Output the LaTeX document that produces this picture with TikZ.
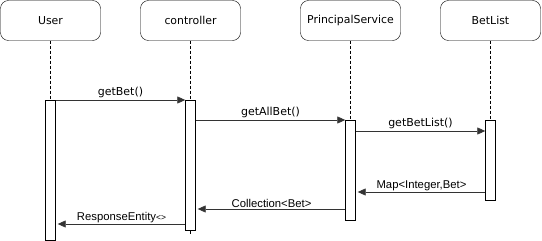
\documentclass[tikz,border=0pt]{standalone}
\usepackage{fontspec}
\setmainfont{Liberation Sans}
\newfontfamily\headfont{DejaVu Sans}
\usetikzlibrary{arrows.meta}

\tikzset{
  head/.style={draw, rounded corners=8pt, minimum width=100pt, minimum height=40pt,
    inner sep=0pt, font=\headfont\fontsize{10.9}{12}\selectfont},
  life/.style={densely dashed, line width=0.6pt},
  bar/.style={draw, fill=white, minimum width=10pt, inner sep=0pt, anchor=north},
  msg/.style={-{Triangle[length=8pt,width=7pt]}, line width=0.6pt, draw=black!80},
  call/.style={font=\headfont\fontsize{11}{12}\selectfont, inner sep=1pt, anchor=south, above=1pt},
  back/.style={font=\fontsize{11.3}{12}\selectfont, inner sep=1pt, anchor=south, above=0pt}
}

\begin{document}
\begin{tikzpicture}[x=1pt, y=-1pt]
  \useasboundingbox (0,0) rectangle (542,241);

  % participants
  \node[head] (user)    at (50.5,20.5)  {User};
  \node[head] (ctrl)    at (190.5,20.5) {controller};
  \node[head] (service) at (350.5,20.5) {PrincipalService};
  \node[head] (betlist) at (490.5,20.5) {BetList};

  % lifelines
  \draw[life] (user.south)    -- ++(0,60);
  \draw[life] (ctrl.south)    -- ++(0,194);
  \draw[life] (service.south) -- ++(0,80);
  \draw[life] (betlist.south) -- ++(0,80);

  % activation bars
  \node[bar, minimum height=140pt] (ubar) at (user.south |- 0,100)    {};
  \node[bar, minimum height=130pt] (cbar) at (ctrl.south |- 0,100)    {};
  \node[bar, minimum height=100pt] (sbar) at (service.south |- 0,120) {};
  \node[bar, minimum height=80pt]  (bbar) at (betlist.south |- 0,120) {};

  % calls
  \draw[msg] (ubar.north east) -- node[call] {getBet()} (cbar.north west);
  \draw[msg] (cbar.east |- sbar.north) -- node[call] {getAllBet()} (sbar.north west);
  \coordinate (c3) at (0,131);
  \draw[msg] (sbar.east |- c3) -- node[call] {getBetList()} (bbar.west |- c3);

  % returns
  \coordinate (r1) at (0,192);
  \coordinate (r2) at (0,209);
  \coordinate (r3) at (0,224);
  \draw[msg] (bbar.west |- r1) -- node[back] {Map<Integer,Bet>} ([xshift=2pt]sbar.east |- r1);
  \draw[msg] (sbar.west |- r2) -- node[back] {Collection<Bet>} ([xshift=2pt]cbar.east |- r2);
  \draw[msg] (cbar.west |- r3) -- node[back] {ResponseEntity{\fontsize{8.5}{9}\selectfont<>}} ([xshift=2pt]ubar.east |- r3);
\end{tikzpicture}
\end{document}
